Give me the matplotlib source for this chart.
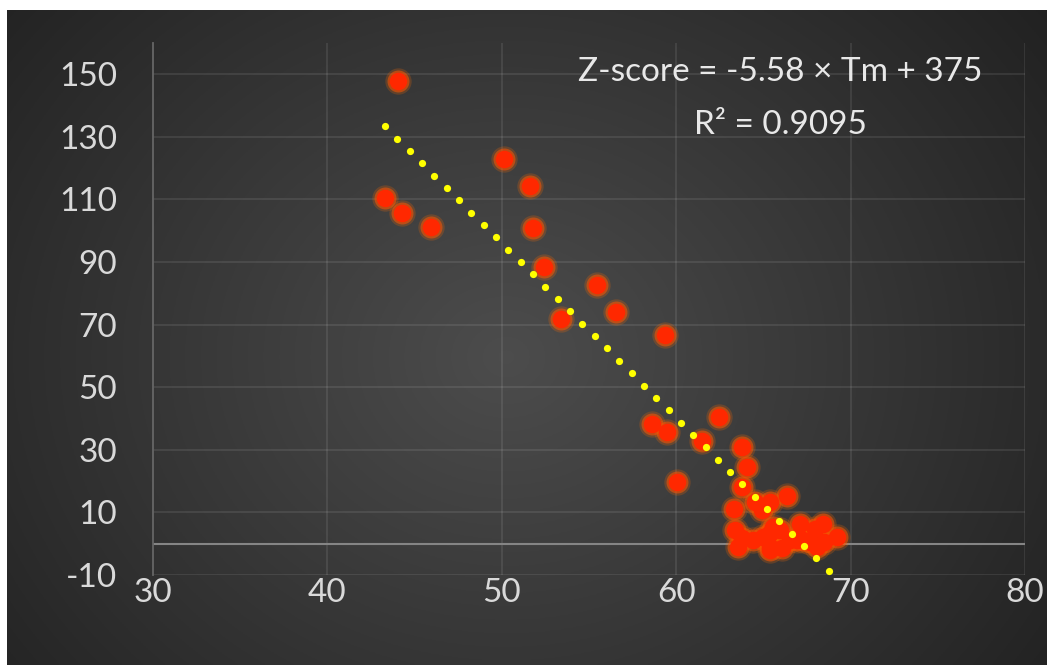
import numpy as np
import matplotlib
matplotlib.use("Agg")
import matplotlib.pyplot as plt

plt.rcParams["axes.unicode_minus"] = False

# ---- data ----
tm = [44.05, 43.30, 44.28, 45.94, 50.13, 51.62, 51.79, 52.42, 55.46, 53.39,
      56.54, 59.36, 58.63, 59.45, 62.44, 61.46, 60.03, 63.76, 64.04,
      63.76, 64.52, 65.38, 66.34, 64.90, 63.33, 63.37, 63.76, 63.56, 64.42,
      65.38, 65.95, 66.05, 67.10, 66.90, 67.95, 68.43, 68.50, 69.20, 67.66,
      65.57, 66.50, 65.38, 64.99, 68.06, 67.29, 65.38]
zscore = [147.7, 110.5, 105.7, 101.3, 122.9, 114.3, 101.0, 88.3, 82.8, 71.7,
          74.0, 66.6, 38.4, 35.6, 40.6, 32.9, 19.7, 30.8, 24.4,
          18.1, 13.3, 13.3, 15.4, 10.7, 11.2, 4.3, 1.7, -1.0, 1.1,
          -1.0, 4.3, -1.5, 6.4, 1.1, 4.8, 6.4, 0.6, 2.2, 0.6,
          5.4, 1.1, -2.1, 2.2, -1.0, 1.1, 3.3]
trend_slope = -5.58
trend_intercept = 375
trend_x = [43.3, 68.75]
trend_dots = 37
x_ticks = [30, 40, 50, 60, 70, 80]
y_ticks = [-10, 10, 30, 50, 70, 90, 110, 130, 150]
eq_label = "Z-score = -5.58 \u00d7 Tm + 375"
r2_label = "R\u00b2 = 0.9095"

FONT = ["Lato", "DejaVu Sans"]
TXT = "#d9d9d9"

W, H = 1047, 665
fig = plt.figure(figsize=(W / 100, H / 100), dpi=100, facecolor="white")

# dark radial-gradient panel
bg = fig.add_axes([7 / W, 0, 1 - 7 / W, 655 / H])
ny, nx = 300, 480
yy, xx = np.mgrid[0:1:ny * 1j, 0:1:nx * 1j]
r = np.sqrt(((xx - 0.48) * 1.3) ** 2 + ((yy - 0.47) * 0.95) ** 2)
val = 0.30 - 0.17 * np.clip(r / 0.85, 0, 1.2)
img = np.dstack([val, val, val])
bg.imshow(img, extent=[0, 1, 0, 1], aspect="auto", origin="lower")
bg.set_axis_off()

# main axes
ax = fig.add_axes([153 / W, 90 / H, (1025 - 153) / W, (622 - 90) / H])
ax.patch.set_alpha(0)
ax.set_xlim(30, 80)
ax.set_ylim(-10, 160)

for s in ["top", "right", "bottom"]:
    ax.spines[s].set_visible(False)
ax.spines["left"].set_color("#666666")
ax.spines["left"].set_linewidth(1.3)

for yv in y_ticks:
    ax.axhline(yv, color="#ffffff", alpha=0.1, lw=1.2, zorder=1)
for xv in x_ticks[1:]:
    ax.axvline(xv, color="#ffffff", alpha=0.1, lw=1.2, zorder=1)
ax.axhline(0, color="#858585", lw=1.5, zorder=1.5)

ax.set_xticks(x_ticks)
ax.set_yticks(y_ticks)
ax.tick_params(axis="both", length=0, colors=TXT, labelsize=24)
ax.tick_params(axis="y", pad=26)
ax.tick_params(axis="x", pad=2)
for lab in ax.get_xticklabels() + ax.get_yticklabels():
    lab.set_family(FONT)
    lab.set_color(TXT)

# markers with glow
ax.scatter(tm, zscore, s=360, color="#ff6a00", alpha=0.22, linewidths=0, zorder=3)
ax.scatter(tm, zscore, s=250, color="#ff5200", alpha=0.55, linewidths=0, zorder=3.1)
ax.scatter(tm, zscore, s=160, color="#ff2800", linewidths=0, zorder=3.2)

# dotted trendline (round dots evenly spaced along the fitted line)
tx = np.linspace(trend_x[0], trend_x[1], trend_dots)
ax.plot(tx, trend_slope * tx + trend_intercept, linestyle="none", marker="o",
        markersize=5.2, markerfacecolor="#ffff00", markeredgewidth=0, zorder=4)

fig.text(780 / W, 1 - 72 / H, eq_label, ha="center", va="center",
         color="#e8e8e8", fontsize=24, family=FONT)
fig.text(780 / W, 1 - 125 / H, r2_label, ha="center", va="center",
         color="#e8e8e8", fontsize=24, family=FONT)

fig.savefig("out.png", dpi=100, facecolor="white")
